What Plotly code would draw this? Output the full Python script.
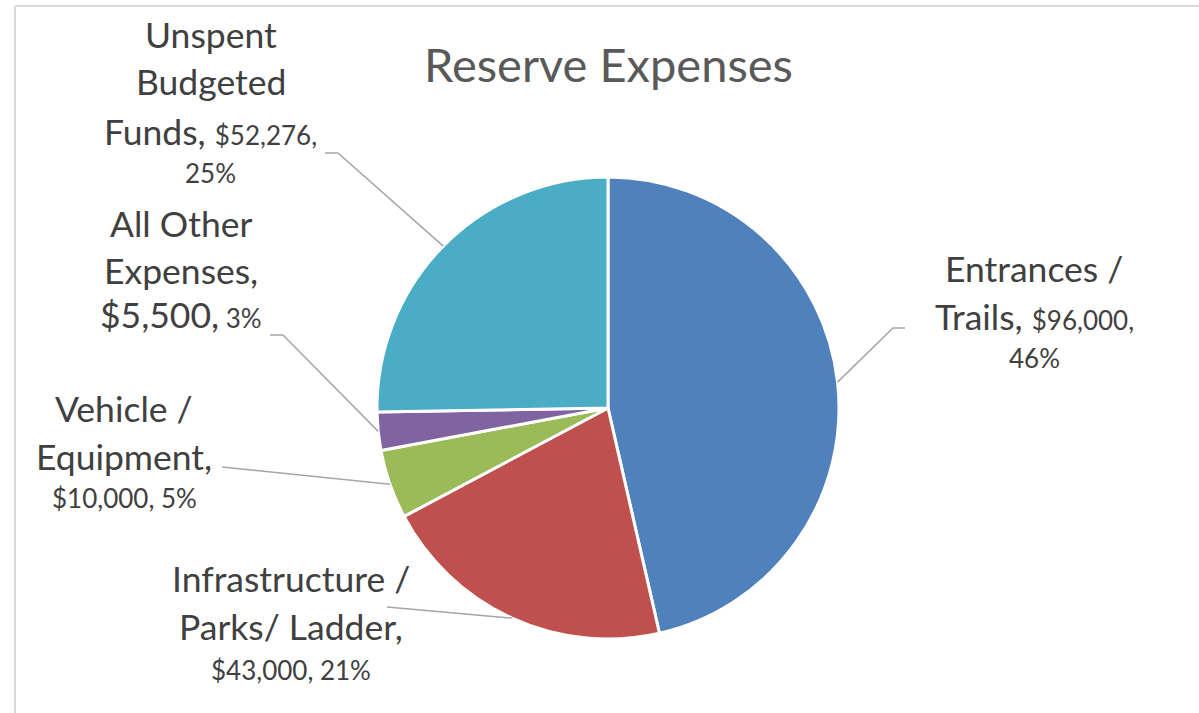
import math
import plotly.graph_objects as go

# ---- data ----
categories = [
    "Entrances / Trails",
    "Infrastructure / Parks/ Ladder",
    "Vehicle / Equipment",
    "All Other Expenses",
    "Unspent Budgeted Funds",
]
amounts = [96000, 43000, 10000, 5500, 52276]
colors = ["#4F81BD", "#C0504D", "#9BBB59", "#8064A2", "#4BACC6"]
title_text = "Reserve Expenses"

W, H = 1199, 713
total = sum(amounts)
money = [f"${v:,}" for v in amounts]
pct = [f"{round(v / total * 100)}%" for v in amounts]

# ---- layout constants (pixels) ----
CX, CY, R = 608, 408, 231
BIG, SMALL, TITLE = 35.5, 26, 47
TXT = "#404040"
LINE = "#A6A6A6"
FONT = "Lato"


def px(x):
    return x / W


def py(y):
    return 1 - y / H


def small(s):
    return f"<span style='font-size:{SMALL}px'>{s}</span>"


# label lines per slice: (text, base font size, baseline y), plus centre x
labels = {
    0: (1034, [("Entrances /", BIG, 282),
               ("Trails, " + small(money[0] + ","), BIG, 330),
               (pct[0], SMALL, 368)]),
    1: (291, [("Infrastructure /", BIG, 592),
              ("Parks/ Ladder,", BIG, 640),
              (f"{money[1]}, {pct[1]}", SMALL, 680)]),
    2: (124, [("Vehicle /", BIG, 422),
              ("Equipment,", BIG, 470),
              (f"{money[2]}, {pct[2]}", SMALL, 508)]),
    3: (181, [("All Other", BIG, 237),
              ("Expenses,", BIG, 284),
              (money[3] + "," + small(" " + pct[3]), BIG, 328)]),
    4: (211, [("Unspent", BIG, 48),
              ("Budgeted", BIG, 95),
              ("Funds, " + small(money[4] + ","), BIG, 145),
              (pct[4], SMALL, 183)]),
}

# leader line start points (label side) and optional elbow
leaders = {
    0: [(905, 328), (893, 328)],
    1: [(387, 607)],
    2: [(222, 467)],
    3: [(270, 335), (283, 335)],
    4: [(325, 153), (338, 153)],
}

fig = go.Figure(
    go.Pie(
        labels=categories,
        values=amounts,
        sort=False,
        direction="clockwise",
        rotation=0,
        marker=dict(colors=colors, line=dict(color="white", width=3)),
        textinfo="none",
        hoverinfo="label+value+percent",
        showlegend=False,
        domain=dict(x=[px(CX - R), px(CX + R)], y=[py(CY + R), py(CY - R)]),
    )
)

annotations = []
for i, (xc, lines) in labels.items():
    for text, size, base in lines:
        annotations.append(dict(
            x=px(xc), y=py(base - 0.387 * size), xref="paper", yref="paper",
            text=text, showarrow=False, xanchor="center", yanchor="middle",
            font=dict(family=FONT, size=size, color=TXT),
            borderpad=0,
        ))

annotations.append(dict(
    x=px(CX), y=py(82 - 0.387 * TITLE), xref="paper", yref="paper",
    text=title_text, showarrow=False, xanchor="center", yanchor="middle",
    font=dict(family=FONT, size=TITLE, color="#595959"),
))

shapes = []
# leader lines: from the label to the mid-angle of each slice on the rim
cum = 0
for i, v in enumerate(amounts):
    mid = (cum + v / 2) / total * 2 * math.pi
    cum += v
    ex = CX + R * math.sin(mid)
    ey = CY - R * math.cos(mid)
    pts = leaders[i] + [(ex, ey)]
    path = "M " + " L ".join(f"{px(x)},{py(y)}" for x, y in pts)
    shapes.append(dict(type="path", path=path, xref="paper", yref="paper",
                       line=dict(color=LINE, width=1.5)))

# chart frame (top and left edges)
shapes.append(dict(type="line", xref="paper", yref="paper",
                   x0=px(15), y0=py(6), x1=1, y1=py(6),
                   line=dict(color="#D9D9D9", width=2)))
shapes.append(dict(type="line", xref="paper", yref="paper",
                   x0=px(15), y0=py(6), x1=px(15), y1=0,
                   line=dict(color="#D9D9D9", width=2)))

fig.update_layout(
    width=W, height=H,
    margin=dict(l=0, r=0, t=0, b=0),
    paper_bgcolor="white",
    plot_bgcolor="white",
    annotations=annotations,
    shapes=shapes,
)

fig.write_html("out.html")
